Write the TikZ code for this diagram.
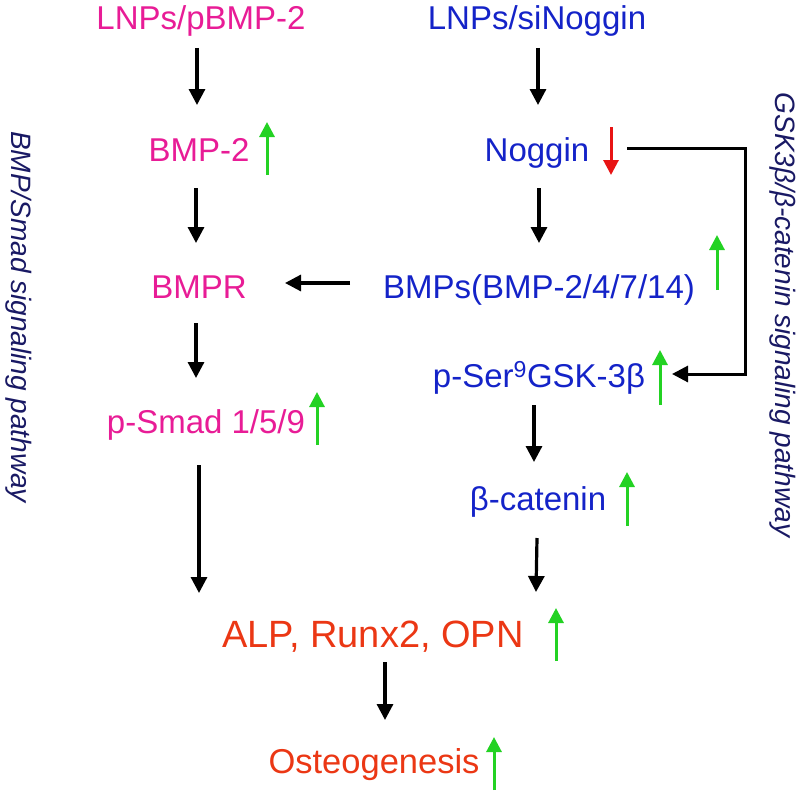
\documentclass[tikz,border=0pt]{standalone}
\usepackage{fontspec}
\setmainfont{Liberation Sans}
\usetikzlibrary{arrows.meta}
\definecolor{pinkc}{RGB}{232,28,150}
\definecolor{bluec}{RGB}{20,35,200}
\definecolor{orangec}{RGB}{235,55,20}
\definecolor{greenc}{RGB}{35,210,35}
\definecolor{redc}{RGB}{232,20,20}
\definecolor{navyc}{RGB}{25,25,100}
\tikzset{
  lbl/.style={inner sep=0pt, anchor=base, font=\fontsize{33}{33}\selectfont},
  pinklbl/.style={lbl, text=pinkc},
  bluelbl/.style={lbl, text=bluec},
  orangelbl/.style={lbl, text=orangec},
  sidelbl/.style={inner sep=0pt, anchor=base, rotate=-90, text=navyc, font=\fontsize{28}{28}\selectfont\itshape},
  arr/.style={line width=3.2pt, -{Triangle[width=16pt,length=16pt]}},
  uparr/.style={line width=3pt, draw=greenc, -{Triangle[width=15pt,length=15pt]}},
  downarr/.style={line width=3pt, draw=redc, -{Triangle[width=15pt,length=15pt]}},
}
\begin{document}
\begin{tikzpicture}[x=1pt,y=-1pt]
\useasboundingbox (0,0) rectangle (808,792);
% text nodes
\node[pinklbl] (lnpb) at (201,30) {LNPs/pBMP-2};
\node[bluelbl] (lnps) at (537,30) {LNPs/siNoggin};
\node[pinklbl] (bmp2) at (199,161) {BMP-2};
\node[bluelbl] (nog) at (537,161) {Noggin};
\node[pinklbl] (bmpr) at (199,298) {BMPR};
\node[bluelbl] (bmps) at (539,298) {BMPs(BMP-2/4/7/14)};
\node[bluelbl] (pser) at (539,387) {p-Ser\textsuperscript{9}GSK-3β};
\node[pinklbl] (psmad) at (206,433) {p-Smad 1/5/9};
\node[bluelbl] (bcat) at (538,510) {β-catenin};
\node[orangelbl, font=\fontsize{38}{38}\selectfont] (alp) at (373,647) {ALP, Runx2, OPN};
\node[orangelbl, font=\fontsize{34.5}{34.5}\selectfont] (osteo) at (374,773) {Osteogenesis};
% side labels
\node[sidelbl] (left) at (11,317) {BMP/Smad signaling pathway};
\node[sidelbl] (right) at (775,315) {GSK3β/β-catenin signaling pathway};
% arrow end points
\coordinate (a1s) at (197,48);  \coordinate (a1e) at (197,105);
\coordinate (a2s) at (538,48);  \coordinate (a2e) at (538,105);
\coordinate (a3s) at (196,188); \coordinate (a3e) at (196,243);
\coordinate (a4s) at (539,188); \coordinate (a4e) at (539,243);
\coordinate (a5s) at (350,283); \coordinate (a5e) at (285,283);
\coordinate (a6s) at (196,323); \coordinate (a6e) at (196,378);
\coordinate (a7s) at (534,405); \coordinate (a7e) at (534,462);
\coordinate (a8s) at (199,465); \coordinate (a8e) at (199,593);
\coordinate (a9s) at (537,538); \coordinate (a9e) at (536,592);
\coordinate (a10s) at (385,662); \coordinate (a10e) at (385,720);
\coordinate (ns) at (627,148); \coordinate (nc1) at (745,148);
\coordinate (nc2) at (745,374); \coordinate (ne) at (672,374);
\draw[arr] (a1s) -- (a1e);
\draw[arr] (a2s) -- (a2e);
\draw[arr] (a3s) -- (a3e);
\draw[arr] (a4s) -- (a4e);
\draw[arr] (a5s) -- (a5e);
\draw[arr] (a6s) -- (a6e);
\draw[arr] (a7s) -- (a7e);
\draw[arr] (a8s) -- (a8e);
\draw[arr] (a9s) -- (a9e);
\draw[arr] (a10s) -- (a10e);
\draw[line width=3pt, -{Triangle[width=16pt,length=16pt]}] (ns) -- (nc1) -- (nc2) -- (ne);
% up/down indicators
\coordinate (g1s) at (267,175); \coordinate (g1e) at (267,122);
\coordinate (r1s) at (611,127); \coordinate (r1e) at (611,175);
\coordinate (g2s) at (717,290); \coordinate (g2e) at (717,235);
\coordinate (g3s) at (660,405); \coordinate (g3e) at (660,350);
\coordinate (g4s) at (317,445); \coordinate (g4e) at (317,392);
\coordinate (g5s) at (627,526); \coordinate (g5e) at (627,472);
\coordinate (g6s) at (556,661); \coordinate (g6e) at (556,608);
\coordinate (g7s) at (494,790); \coordinate (g7e) at (494,737);
\draw[uparr] (g1s) -- (g1e);
\draw[downarr] (r1s) -- (r1e);
\draw[uparr] (g2s) -- (g2e);
\draw[uparr] (g3s) -- (g3e);
\draw[uparr] (g4s) -- (g4e);
\draw[uparr] (g5s) -- (g5e);
\draw[uparr] (g6s) -- (g6e);
\draw[uparr] (g7s) -- (g7e);
\end{tikzpicture}
\end{document}
